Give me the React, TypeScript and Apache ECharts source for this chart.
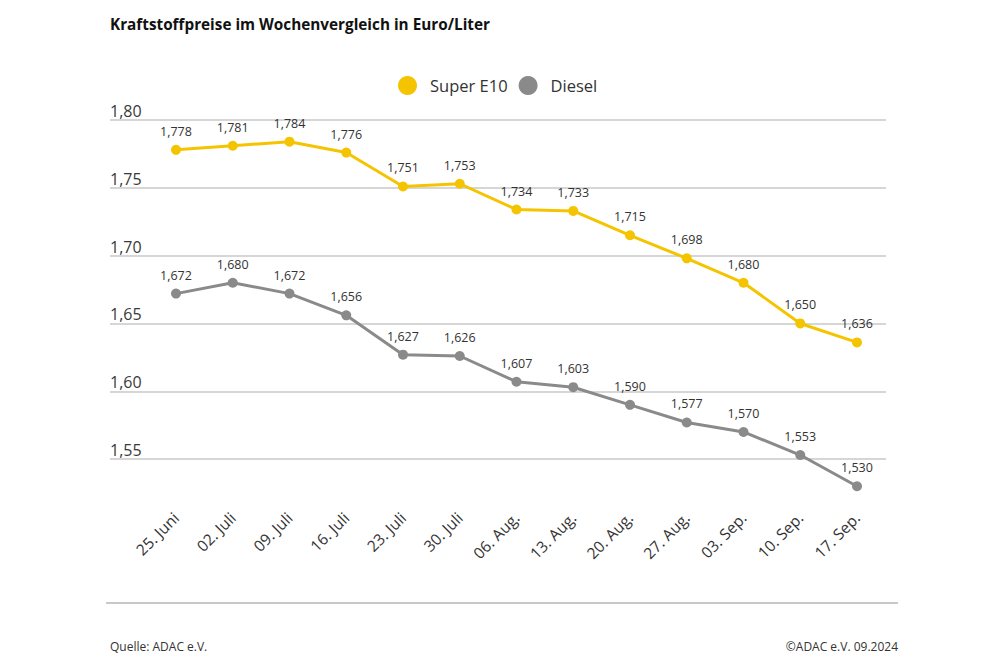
import React, { useEffect, useRef } from "react";
import * as echarts from "echarts";

const categories = [
  "25. Juni", "02. Juli", "09. Juli", "16. Juli", "23. Juli", "30. Juli",
  "06. Aug.", "13. Aug.", "20. Aug.", "27. Aug.", "03. Sep.", "10. Sep.", "17. Sep.",
];
const superE10 = [1.778, 1.781, 1.784, 1.776, 1.751, 1.753, 1.734, 1.733, 1.715, 1.698, 1.68, 1.65, 1.636];
const diesel = [1.672, 1.68, 1.672, 1.656, 1.627, 1.626, 1.607, 1.603, 1.59, 1.577, 1.57, 1.553, 1.53];
const yMin = 1.525;
const yMax = 1.8;
const yStep = 0.025;

const FONT = "'Open Sans', 'Noto Sans', sans-serif";
const YELLOW = "#F5C400";
const GRAY = "#8a8a8a";

const fmt3 = (v: number) => v.toFixed(3).replace(".", ",");

export default function App() {
  const ref = useRef<HTMLDivElement>(null);
  useEffect(() => {
    if (!ref.current) return;
    const chart = echarts.init(ref.current, undefined, { renderer: "svg" });
    const label = {
      show: true,
      position: "top" as const,
      distance: 7,
      fontFamily: FONT,
      fontSize: 12.5,
      color: "#333",
      formatter: (p: any) => fmt3(p.value),
    };
    chart.setOption({
      animation: false,
      backgroundColor: "#fff",
      textStyle: { fontFamily: FONT },
      title: {
        text: "Kraftstoffpreise im Wochenvergleich in Euro/Liter",
        left: 110,
        top: 16,
        padding: 0,
        textStyle: { fontFamily: FONT, fontSize: 15.3, fontWeight: "bold", color: "#111" },
      },
      legend: {
        top: 71,
        left: 393,
        icon: "circle",
        itemWidth: 19,
        itemHeight: 19,
        itemGap: 11,
        textStyle: { fontFamily: FONT, fontSize: 16.5, color: "#333", padding: [0, 0, 0, 8] },
        data: ["Super E10", "Diesel"],
      },
      grid: [
        { left: 110, right: 114, top: 120, bottom: 174 },
        { left: 176, right: 143, top: 120, bottom: 174 },
      ],
      xAxis: [
        {
          gridIndex: 0,
          type: "category",
          data: categories,
          show: false,
        },
        {
          gridIndex: 1,
          type: "category",
          data: categories,
          boundaryGap: false,
          axisLine: { show: false },
          axisTick: { show: false },
          splitLine: { show: false },
          axisLabel: {
            rotate: 45,
            margin: 22,
            interval: 0,
            fontFamily: FONT,
            fontSize: 15.5,
            color: "#333",
          },
        },
      ],
      yAxis: [
        {
          gridIndex: 0,
          type: "value",
          min: yMin,
          max: yMax,
          interval: yStep,
          axisLine: { show: false },
          axisTick: { show: false },
          splitLine: {
            show: true,
            showMinLine: true,
            lineStyle: { color: ["rgba(0,0,0,0)", "#c8c8c8"], width: 1.5 },
          },
          axisLabel: {
            inside: true,
            margin: 0,
            verticalAlign: "bottom",
            padding: [0, 0, 1, 0],
            fontFamily: FONT,
            fontSize: 16,
            color: "#3a3a3a",
            formatter: (v: number) =>
              Math.round(v * 1000) % 50 === 0 ? v.toFixed(2).replace(".", ",") : "",
          },
        },
        {
          gridIndex: 1,
          type: "value",
          min: yMin,
          max: yMax,
          show: false,
          splitLine: { show: false },
        },
      ],
      series: [
        {
          name: "Super E10",
          type: "line",
          xAxisIndex: 1,
          yAxisIndex: 1,
          data: superE10,
          symbol: "circle",
          symbolSize: 10,
          itemStyle: { color: YELLOW },
          lineStyle: { color: YELLOW, width: 3 },
          label,
        },
        {
          name: "Diesel",
          type: "line",
          xAxisIndex: 1,
          yAxisIndex: 1,
          data: diesel,
          symbol: "circle",
          symbolSize: 10,
          itemStyle: { color: GRAY },
          lineStyle: { color: GRAY, width: 3 },
          label,
        },
      ],
      graphic: [
        {
          type: "line",
          shape: { x1: 106, y1: 603, x2: 898, y2: 603 },
          style: { stroke: "#c8c8c8", lineWidth: 2 },
        },
        {
          type: "text",
          left: 110,
          top: 640,
          style: {
            text: "Quelle: ADAC e.V.",
            fontFamily: "'Liberation Sans Narrow', 'Open Sans', sans-serif",
            fontSize: 12,
            fill: "#333",
          },
        },
        {
          type: "text",
          right: 102,
          top: 640,
          style: {
            text: "©ADAC e.V. 09.2024",
            fontFamily: "'Liberation Sans Narrow', 'Open Sans', sans-serif",
            fontSize: 12,
            fill: "#333",
          },
        },
      ],
    });
    return () => chart.dispose();
  }, []);
  return (
    <div
      ref={ref}
      style={{ width: 1000, height: 667, position: "absolute", left: 0, top: 0 }}
    />
  );
}
